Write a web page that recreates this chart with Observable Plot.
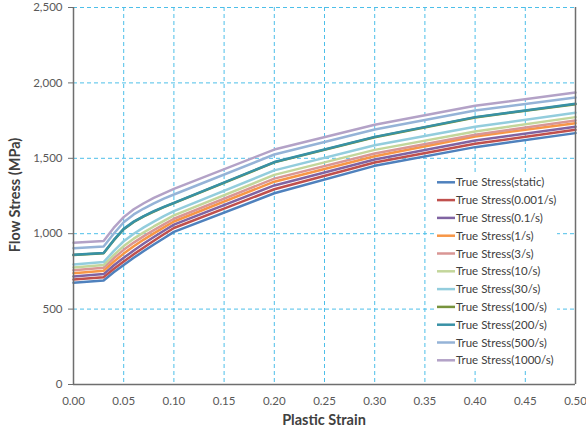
<!DOCTYPE html>
<html>
<head>
<meta charset="utf-8">
<script src="https://cdn.jsdelivr.net/npm/d3@7"></script>
<script src="https://cdn.jsdelivr.net/npm/@observablehq/plot@0.6"></script>
<style>
  html, body { margin: 0; padding: 0; background: #ffffff; }
  #chart { width: 586px; height: 432px; }
</style>
</head>
<body>
<div id="chart"></div>
<script>
// ---- Data ----
const strain = [0, 0.03, 0.04, 0.05, 0.06, 0.07, 0.08, 0.09, 0.10, 0.20, 0.30, 0.40, 0.50];

const seriesNames = [
  "True Stress(static)", "True Stress(0.001/s)", "True Stress(0.1/s)", "True Stress(1/s)",
  "True Stress(3/s)", "True Stress(10/s)", "True Stress(30/s)", "True Stress(100/s)",
  "True Stress(200/s)", "True Stress(500/s)", "True Stress(1000/s)"
];
const seriesColors = [
  "#4f81bd", "#c0504d", "#8064a2", "#f79646",
  "#d99694", "#c3d69b", "#93cddd", "#77933c",
  "#3891a6", "#95b3d7", "#b3a2c7"
];

const stressStatic = [674, 690, 744, 793, 840, 885, 928, 970, 1012, 1268, 1450, 1574, 1667];
const stress0001   = [696, 712, 766, 815, 863, 909, 953, 996, 1038, 1295, 1472, 1596, 1689];
const stress01     = [716, 732, 789, 840, 889, 935, 978, 1020, 1060, 1320, 1492, 1618, 1709];
const stress1      = [738, 754, 814, 868, 917, 961, 1002, 1042, 1081, 1345, 1514, 1645, 1733];
const stress3      = [758, 774, 837, 893, 941, 984, 1024, 1062, 1099, 1365, 1532, 1656, 1751];
const stress10     = [776, 792, 858, 918, 967, 1009, 1048, 1085, 1121, 1390, 1556, 1678, 1773];
const stress30     = [796, 812, 884, 950, 1000, 1042, 1080, 1116, 1150, 1420, 1587, 1709, 1802];
const stress100    = [858, 870, 955, 1030, 1078, 1115, 1147, 1176, 1203, 1473, 1640, 1771, 1859];
const stress200    = [860, 872, 957, 1032, 1080, 1117, 1149, 1178, 1205, 1475, 1642, 1773, 1861];
const stress500    = [904, 915, 1000, 1076, 1128, 1167, 1201, 1232, 1260, 1525, 1691, 1817, 1903];
const stress1000   = [940, 952, 1038, 1110, 1162, 1202, 1237, 1268, 1297, 1558, 1722, 1848, 1936];

const xTicks = [0, 0.05, 0.10, 0.15, 0.20, 0.25, 0.30, 0.35, 0.40, 0.45, 0.50];
const yTicks = [0, 500, 1000, 1500, 2000, 2500];

const xTitle = "Plastic Strain";
const yTitle = "Flow Stress (MPa)";

// ---- Build table ----
const allStress = [stressStatic, stress0001, stress01, stress1, stress3, stress10,
                   stress30, stress100, stress200, stress500, stress1000];
const rows = [];
seriesNames.forEach((name, i) => {
  strain.forEach((s, j) => rows.push({series: name, strain: s, stress: allStress[i][j]}));
});

const font = "Lato, 'Open Sans', sans-serif";
const gridColor = "#4dbfe9";
const axisColor = "#6e6e6e";

const chart = Plot.plot({
  width: 586,
  height: 432,
  marginLeft: 73,
  marginRight: 11,
  marginTop: 7,
  marginBottom: 48,
  style: {fontFamily: font, fontSize: "11.5px", color: "#595959", background: "#ffffff"},
  x: {domain: [0, 0.5]},
  y: {domain: [0, 2500]},
  color: {domain: seriesNames, range: seriesColors},
  marks: [
    Plot.gridX(xTicks.filter(d => d > 0 && d < 0.5), {stroke: gridColor, strokeOpacity: 1, strokeDasharray: "4,3", strokeWidth: 1}),
    Plot.gridY(yTicks.filter(d => d > 0), {stroke: gridColor, strokeOpacity: 1, strokeDasharray: "4,3", strokeWidth: 1}),
    Plot.line(rows, {x: "strain", y: "stress", z: "series", stroke: "series", strokeWidth: 2.5}),
    Plot.axisY(yTicks, {tickSize: 5, tickPadding: 6, tickFormat: d3.format(","), label: null, stroke: axisColor, fill: "#595959"}),
    Plot.axisX(xTicks, {tickSize: 0, tickPadding: 12, tickFormat: d3.format(".2f"), label: null, fill: "#595959"}),
    Plot.ruleX([0], {stroke: axisColor, strokeWidth: 1.5}),
    Plot.ruleX([0.5], {stroke: axisColor, strokeWidth: 1.5}),
    Plot.ruleY([0], {stroke: axisColor, strokeWidth: 1.5})
  ]
});

document.getElementById("chart").appendChild(chart);

// ---- Axis titles and legend appended to the SVG ----
const svg = d3.select(chart);

svg.append("text")
  .attr("x", 324).attr("y", 425)
  .attr("text-anchor", "middle")
  .attr("font-family", font).attr("font-size", 14.5).attr("font-weight", "bold")
  .attr("fill", "#404040")
  .text(xTitle);

svg.append("text")
  .attr("transform", "translate(20,195) rotate(-90)")
  .attr("text-anchor", "middle")
  .attr("font-family", font).attr("font-size", 14.5).attr("font-weight", "bold")
  .attr("fill", "#404040")
  .text(yTitle);

const lg = svg.append("g").attr("transform", "translate(434,172)");
lg.append("rect").attr("x", 0).attr("y", 0).attr("width", 123).attr("height", 197).attr("fill", "#ffffff");
seriesNames.forEach((name, i) => {
  const yy = 10.3 + i * 17.8;
  lg.append("line").attr("x1", 3).attr("x2", 21).attr("y1", yy).attr("y2", yy)
    .attr("stroke", seriesColors[i]).attr("stroke-width", 2.5);
  lg.append("text").attr("x", 22).attr("y", yy).attr("dy", "0.35em")
    .attr("text-anchor", "start")
    .attr("font-family", font).attr("font-size", 11.5).attr("fill", "#404040")
    .text(name);
});
</script>
</body>
</html>
